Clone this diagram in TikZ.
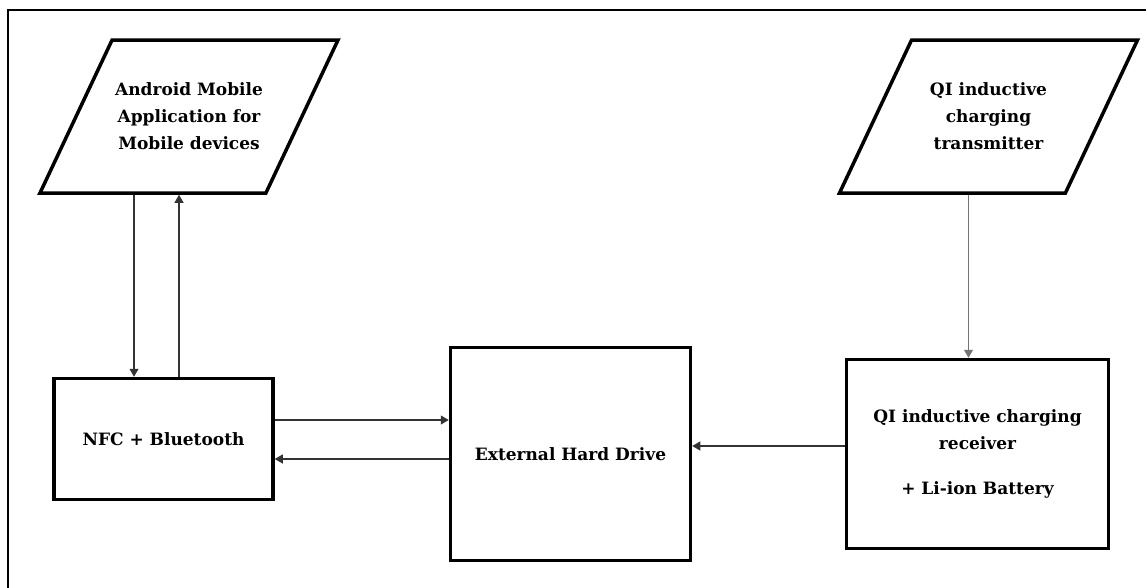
\documentclass[tikz,border=0pt]{standalone}
\usepackage{fontspec}
\setmainfont{DejaVu Serif}
\usetikzlibrary{arrows.meta,shapes.geometric}
\tikzset{
  block/.style={draw, line width=3.5pt, align=center, font=\bfseries\fontsize{17}{27}\selectfont, inner sep=0pt},
  iobox/.style={block, trapezium, trapezium left angle=64.5, trapezium right angle=115.5,
    trapezium stretches body=true, inner ysep=42pt, minimum width=298, minimum height=153},
  link/.style={draw=black!80, line width=1.1pt, -{Triangle[length=8pt,width=9pt]}}
}
\begin{document}
\begin{tikzpicture}[x=1pt, y=-1pt]
  \useasboundingbox (0,0) rectangle (1146,587);
  % outer frame
  \draw[line width=2.5pt] (8,10) rectangle (1160,600);
  % input / output blocks
  \node[iobox] (app) at (189,116.5) {Android Mobile\\Application for\\Mobile devices};
  \node[iobox] (tx) at (988.5,116.5) {QI inductive\\charging\\transmitter};
  % process blocks
  \node[block, minimum width=219, minimum height=121] (nfc) at (163.5,439) {NFC + Bluetooth};
  \node[block, minimum width=240, minimum height=213] (ehd) at (570.5,454) {External Hard Drive};
  \node[block, minimum width=262, minimum height=189] (rx) at (977.5,454)
    {QI inductive charging\\receiver\\[18pt]+ Li-ion Battery};
  % connectors
  \draw[link] ([xshift=-55]app.south) -- ([xshift=-55]app.south |- nfc.north);
  \draw[link] ([xshift=-10]app.south |- nfc.north) -- ([xshift=-10]app.south);
  \draw[link] ([yshift=19]nfc.east) -- ([yshift=19]nfc.east -| ehd.west);
  \draw[link] ([yshift=-20]nfc.east -| ehd.west) -- ([yshift=-20]nfc.east);
  \draw[link] ([yshift=8]rx.west) -- ([yshift=8]rx.west -| ehd.east);
  \draw[link, draw=black!55] ([xshift=-20]tx.south) -- ([xshift=-20]tx.south |- rx.north);
\end{tikzpicture}
\end{document}
